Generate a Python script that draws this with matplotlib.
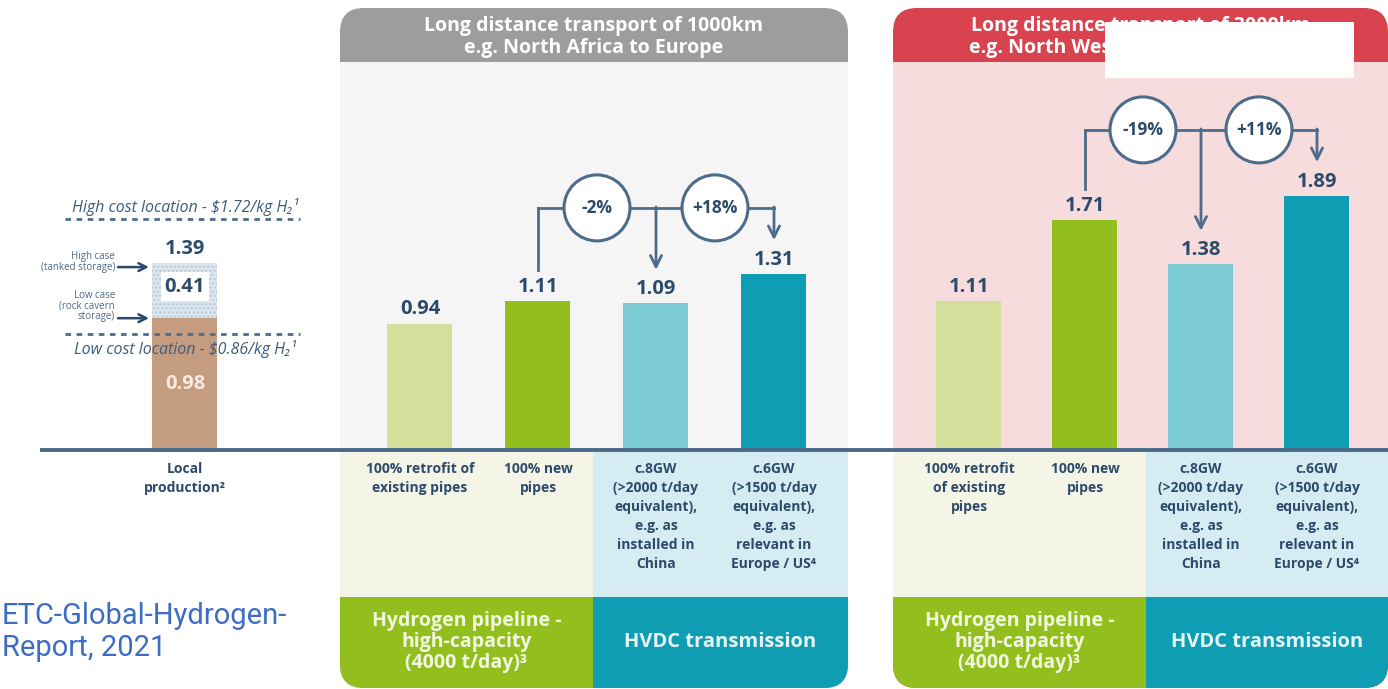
import matplotlib
matplotlib.use("Agg")
import matplotlib.pyplot as plt
import numpy as np
from matplotlib.patches import FancyBboxPatch, Rectangle, Ellipse

plt.rcParams["font.family"] = ["Open Sans", "DejaVu Sans"]

NAVY = "#2c4a6a"
LINE = "#4d6b8a"
RETROFIT = "#d3df9a"
NEWPIPE = "#92bf1e"
HVDC8 = "#7ccbd4"
HVDC6 = "#0e9db2"
BROWN = "#c49c80"
STORAGE = "#dbe6ef"

# ---- data ----------------------------------------------------------------
local_label = "Local\nproduction²"
local_base = 0.98
local_storage = 0.41
local_total = 1.39
high_cost_location = 1.72
low_cost_location = 0.86

panel_titles = [
    "Long distance transport of 1000km\ne.g. North Africa to Europe",
    "Long distance transport of 3000km\ne.g. North West China to East China",
]
options_1000 = [
    "100% retrofit of\nexisting pipes",
    "100% new\npipes",
    "c.8GW\n(>2000 t/day\nequivalent),\ne.g. as\ninstalled in\nChina",
    "c.6GW\n(>1500 t/day\nequivalent),\ne.g. as\nrelevant in\nEurope / US⁴",
]
options_3000 = [
    "100% retrofit\nof existing\npipes",
    "100% new\npipes",
    "c.8GW\n(>2000 t/day\nequivalent),\ne.g. as\ninstalled in\nChina",
    "c.6GW\n(>1500 t/day\nequivalent),\ne.g. as\nrelevant in\nEurope / US⁴",
]
costs_1000 = [0.94, 1.11, 1.09, 1.31]
costs_3000 = [1.11, 1.71, 1.38, 1.89]
changes_1000 = ["-2%", "+18%"]
changes_3000 = ["-19%", "+11%"]
tech_groups = ["Hydrogen pipeline -\nhigh-capacity\n(4000 t/day)³", "HVDC transmission"]
source = "ETC-Global-Hydrogen-\nReport, 2021"

bar_colors = [RETROFIT, NEWPIPE, HVDC8, HVDC6]

# ---- layout --------------------------------------------------------------
W, H = 1388, 689
BASE = 450          # baseline, px from top
PX = 134.5          # px per $/kg
BW = 65

fig = plt.figure(figsize=(W / 100, H / 100), dpi=100)
bg = fig.add_axes([0, 0, 1, 1])
bg.set_xlim(0, W)
bg.set_ylim(H, 0)
bg.axis("off")

ax = fig.add_axes([0, 0, 1, 1], zorder=2)
ax.patch.set_alpha(0)
ax.set_xlim(0, W)
ax.set_ylim((BASE - H) / PX, BASE / PX)
ax.axis("off")


def panel(x0, x1, split, head_col, body_col, title, options, xs):
    outer = FancyBboxPatch((x0, 8), x1 - x0, 680, boxstyle="round,pad=0,rounding_size=24",
                           fc=head_col, ec="none", zorder=0)
    bg.add_patch(outer)
    rects = [
        (x0, 62, x1 - x0, BASE - 62, body_col),
        (x0, BASE, split - x0, 597 - BASE, "#f4f5e6"),
        (split, BASE, x1 - split, 597 - BASE, "#d6ecf3"),
        (x0, 597, split - x0, 100, NEWPIPE),
        (split, 597, x1 - split, 100, HVDC6),
    ]
    for rx, ry, rw, rh, c in rects:
        r = Rectangle((rx, ry), rw, rh, fc=c, ec="none", zorder=0.5)
        bg.add_patch(r)
        r.set_clip_path(outer)
    bg.text((x0 + x1) / 2, 37, title, ha="center", va="center", color="white",
            fontsize=14, fontweight="bold", linespacing=1.15, zorder=1)
    bg.text((x0 + split) / 2, 642, tech_groups[0], ha="center", va="center", color="#f2f7e0",
            fontsize=14, fontweight="bold", linespacing=1.05, zorder=1)
    bg.text((split + x1) / 2, 642, tech_groups[1], ha="center", va="center", color="#e4f6f8",
            fontsize=14.5, fontweight="bold", zorder=1)
    for x, lab in zip(xs, options):
        bg.text(x, 462, lab, ha="center", va="top", color=NAVY, fontsize=10,
                fontweight="bold", linespacing=1.45, zorder=1)


def comparison(xs, costs, changes):
    y_top = max(costs[1:]) + 0.49
    ax.plot([xs[1], xs[1]], [costs[1] + 0.23, y_top], color=LINE, lw=2, zorder=4)
    ax.plot([xs[1], xs[3]], [y_top, y_top], color=LINE, lw=2, zorder=4)
    for i in (2, 3):
        ax.annotate("", xy=(xs[i], costs[i] + 0.25), xytext=(xs[i], y_top + 0.007),
                    arrowprops=dict(arrowstyle="->", lw=2, color=LINE, mutation_scale=20,
                                    shrinkA=0, shrinkB=0), zorder=4)
    for i, chg in enumerate(changes):
        cx = (xs[i + 1] + xs[i + 2]) / 2
        ax.add_patch(Ellipse((cx, y_top), 66, 66 / PX, fc="white", ec=LINE, lw=2.2, zorder=5))
        ax.text(cx, y_top, chg, ha="center", va="center", color=NAVY, fontsize=12.5,
                fontweight="bold", zorder=6)


xs1 = 420 + 118 * np.arange(4)
xs2 = 969 + 116 * np.arange(4)

panel(340, 848, 593, "#9d9d9d", "#f5f5f5", panel_titles[0], options_1000, xs1)
panel(893, 1388, 1146, "#d8434f", "#f6dcdc", panel_titles[1], options_3000, xs2)

# redaction box as in the source image
bg.add_patch(Rectangle((1105, 22), 249, 56, fc="white", ec="none", zorder=3))

# bars
for xs, costs, changes in [(xs1, costs_1000, changes_1000), (xs2, costs_3000, changes_3000)]:
    ax.bar(xs, costs, width=BW, color=bar_colors, zorder=3)
    for x, v in zip(xs, costs):
        ax.annotate(f"{v:.2f}", (x, v), xytext=(0, 3), textcoords="offset points", ha="center",
                    va="bottom", color=NAVY, fontsize=14.5, fontweight="bold", zorder=4)
    comparison(xs, costs, changes)

# local production
LX = 185
ax.bar([LX], [local_base], width=BW, color=BROWN, zorder=3)
ax.bar([LX], [local_storage], bottom=[local_base], width=BW, color=STORAGE,
       hatch="....", edgecolor="#b9c9d8", linewidth=0, zorder=3)
ax.text(LX, local_base / 2, f"{local_base:.2f}", ha="center", va="center", color="#f6e9df",
        fontsize=14.5, fontweight="bold", zorder=4)
ax.text(LX, local_base + local_storage / 2 + 0.03, f"{local_storage:.2f}", ha="center", va="center",
        color=NAVY, fontsize=14.5, fontweight="bold", zorder=4,
        bbox=dict(fc="white", ec="none", pad=3))
ax.annotate(f"{local_total:.2f}", (LX, local_total), xytext=(0, 3), textcoords="offset points",
            ha="center", va="bottom", color=NAVY, fontsize=14.5, fontweight="bold", zorder=4)
bg.text(LX, 462, local_label, ha="center", va="top", color=NAVY, fontsize=10,
        fontweight="bold", linespacing=1.45)

# location cost references
ax.hlines([high_cost_location, low_cost_location], 65, 300, colors=LINE, lw=2,
          linestyles=(0, (2, 2)), zorder=4)
ax.text(LX, high_cost_location + 0.09, r"High cost location - \$1.72/kg H₂¹", ha="center",
        va="center", color="#3e5c7c", fontsize=11.5, style="italic", zorder=4)
ax.text(LX, low_cost_location - 0.11, r"Low cost location - \$0.86/kg H₂¹", ha="center",
        va="center", color="#3e5c7c", fontsize=11.5, style="italic", zorder=4)

# storage case pointers
ax.annotate("", xy=(149, local_total - 0.03), xytext=(118, local_total - 0.03),
            arrowprops=dict(arrowstyle="->", lw=1.8, color=NAVY, mutation_scale=14,
                            shrinkA=0, shrinkB=0))
ax.annotate("", xy=(149, local_base), xytext=(118, local_base),
            arrowprops=dict(arrowstyle="->", lw=1.8, color=NAVY, mutation_scale=14,
                            shrinkA=0, shrinkB=0))
ax.text(115, local_total + 0.01, "High case\n(tanked storage)", ha="right", va="center",
        color="#4f6a88", fontsize=7, linespacing=0.95)
ax.text(115, local_base + 0.09, "Low case\n(rock cavern\nstorage)", ha="right", va="center",
        color="#4f6a88", fontsize=7, linespacing=0.95)

# baseline
ax.hlines(0, 40, W, colors="#4a6a8a", lw=2.8, zorder=5)

# source note
bg.text(2, 632, source, ha="left", va="center", color="#3d6cc4", fontsize=21,
        family=["Roboto", "DejaVu Sans"], linespacing=1.2, zorder=2)

fig.savefig("out.png", dpi=100)
